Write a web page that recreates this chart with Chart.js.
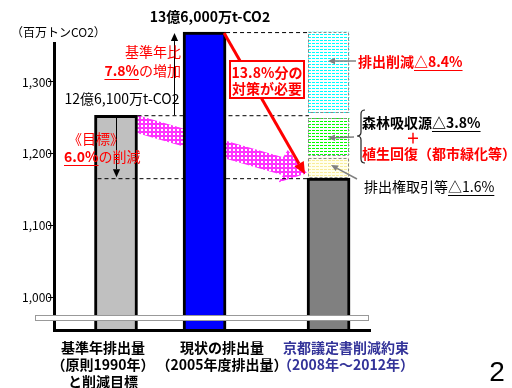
<!DOCTYPE html>
<html>
<head>
<meta charset="utf-8">
<script src="https://cdn.jsdelivr.net/npm/chart.js@4.4.1/dist/chart.umd.min.js"></script>
<style>
  html, body { margin: 0; padding: 0; background: #fff; }
  #wrap { width: 512px; height: 388px; position: relative; }
</style>
</head>
<body>
<div id="wrap"><canvas id="c"></canvas></div>
<script>
// 温室効果ガス排出量 (百万トンCO2)
const categories = [
  ['基準年排出量', '（原則1990年）', 'と削減目標'],
  ['現状の排出量', '（2005年度排出量）'],
  ['京都議定書削減約束', '（2008年～2012年）']
];
const emissions = [1261, 1360, 1186];
// 削減の内訳 (京都議定書の棒の上に重ねる箱: 下端, 上端)
const breakdownNames = ['排出権取引等', '森林吸収源', '排出削減'];
const breakdownRanges = [[1186, 1210], [1213, 1258], [1264, 1360]];
const yTicks = [1000, 1100, 1200, 1300];

const FONT = '"Noto Sans CJK JP", "Noto Sans", sans-serif';

// the original slide is not drawn to scale, so the bars use their own hidden value axis
// while the visible axis only carries the tick labels
const BAR_MIN = 1004, BAR_MAX = 1347;
// bars sit in uneven places on the slide: put them in narrow slots of a category axis
const slotOf = [3, 8, 15];
const slotLabels = Array.from({ length: 16 }, (_, i) => 's' + i);

function makePattern(bg, fg, w, h, dots) {
    const c = document.createElement('canvas');
    c.width = w; c.height = h;
    const x = c.getContext('2d');
    x.fillStyle = bg;
    x.fillRect(0, 0, w, h);
    x.fillStyle = fg;
    dots.forEach(d => x.fillRect(d[0], d[1], d[2], d[3]));
    return x.createPattern(c, 'repeat');
}

const cyanFill = makePattern('#ffffff', '#00ffff', 4, 3, [[0, 1, 3, 1]]);
const greenFill = makePattern('#ffffff', '#00ff00', 4, 3, [[0, 1, 3, 1]]);
const yellowFill = makePattern('#ffffee', '#f8ec9a', 4, 3, [[0, 1, 3, 1]]);
const pinkFill = makePattern('#ff33ff', '#ffffff', 4, 4, [[1, 1, 2, 2]]);
const boxFills = [yellowFill, greenFill, cyanFill];

function arrow(ctx, x1, y1, x2, y2, color, width, head) {
    ctx.save();
    ctx.strokeStyle = color;
    ctx.fillStyle = color;
    ctx.lineWidth = width;
    const a = Math.atan2(y2 - y1, x2 - x1);
    const bx = x2 - head * Math.cos(a), by = y2 - head * Math.sin(a);
    ctx.beginPath();
    ctx.moveTo(x1, y1);
    ctx.lineTo(bx, by);
    ctx.stroke();
    ctx.beginPath();
    ctx.moveTo(x2, y2);
    ctx.lineTo(bx + head * 0.45 * Math.sin(a), by - head * 0.45 * Math.cos(a));
    ctx.lineTo(bx - head * 0.45 * Math.sin(a), by + head * 0.45 * Math.cos(a));
    ctx.closePath();
    ctx.fill();
    ctx.restore();
}

function dashed(ctx, x1, y1, x2, y2, color) {
    ctx.save();
    ctx.strokeStyle = color;
    ctx.lineWidth = 1;
    ctx.setLineDash([4, 3]);
    ctx.beginPath();
    ctx.moveTo(x1, y1);
    ctx.lineTo(x2, y2);
    ctx.stroke();
    ctx.restore();
}

// parts: [text, bold, underline]
function textRuns(ctx, parts, x, y, align, color, size) {
    ctx.save();
    ctx.textBaseline = 'middle';
    ctx.textAlign = 'left';
    ctx.fillStyle = color;
    ctx.strokeStyle = color;
    const font = b => (b ? 'bold ' : '') + size + 'px ' + FONT;
    let total = 0;
    parts.forEach(p => { ctx.font = font(p[1]); total += ctx.measureText(p[0]).width; });
    let cx = align === 'left' ? x : align === 'right' ? x - total : x - total / 2;
    parts.forEach(p => {
        ctx.font = font(p[1]);
        const w = ctx.measureText(p[0]).width;
        ctx.fillText(p[0], cx, y);
        if (p[2]) {
            ctx.lineWidth = 1;
            ctx.beginPath();
            ctx.moveTo(cx, Math.round(y + size * 0.6) + 0.5);
            ctx.lineTo(cx + w, Math.round(y + size * 0.6) + 0.5);
            ctx.stroke();
        }
        cx += w;
    });
    ctx.restore();
}

const slidePlugin = {
    id: 'slide',
    beforeDatasetsDraw(chart) {
        const ctx = chart.ctx;
        const [g, b, d] = chart.getDatasetMeta(0).data;
        const gR = g.x + g.width / 2, bR = b.x + b.width / 2;
        const dL = d.x - d.width / 2;

        // pink band arrow from the base year to the target
        const sx = gR, sy = g.y, th = 18;
        const tx = dL, ty = d.y - 5;
        const slope = (ty - sy - th / 2) / (tx - sx);
        const hx = tx - 24;
        const cy = sy + th / 2 + slope * (hx - sx);
        const len = Math.hypot(1, slope), nx = -slope / len, ny = 1 / len;
        ctx.save();
        ctx.fillStyle = pinkFill;
        ctx.beginPath();
        ctx.moveTo(sx, sy);
        ctx.lineTo(hx, cy - th / 2);
        ctx.lineTo(hx - nx * 17, cy - ny * 17);
        ctx.lineTo(tx, ty);
        ctx.lineTo(hx + nx * 17, cy + ny * 17);
        ctx.lineTo(hx, cy + th / 2);
        ctx.lineTo(sx, sy + th);
        ctx.closePath();
        ctx.fill();
        ctx.restore();

        // dashed guide lines (blue bar covers the middle)
        dashed(ctx, gR, g.y + 0.5, dL + 2, g.y + 0.5, '#000');
        dashed(ctx, bR, b.y + 0.5, dL + 2, b.y + 0.5, '#000');
    },
    afterDatasetsDraw(chart) {
        const ctx = chart.ctx;
        const area = chart.chartArea;
        const [g, b, d] = chart.getDatasetMeta(0).data;
        const gL = g.x - g.width / 2, bL = b.x - b.width / 2, bR = b.x + b.width / 2;
        const dL = d.x - d.width / 2;

        // target level line
        dashed(ctx, gL + 3, d.y + 0.5, bL, d.y + 0.5, '#000');
        dashed(ctx, bR, d.y + 0.5, dL, d.y + 0.5, '#000');

        // arrows: 6.0% reduction and 7.8% increase
        arrow(ctx, Math.round(g.x) + 0.5, g.y, Math.round(g.x) + 0.5, d.y - 1, '#000', 1, 8);
        arrow(ctx, Math.round(bL) - 8.5, g.y, Math.round(bL) - 8.5, b.y + 1, '#000', 1, 8);

        // dashed borders of the breakdown boxes
        for (let i = 1; i <= breakdownRanges.length; i++) {
            const el = chart.getDatasetMeta(i).data[0];
            ctx.save();
            ctx.strokeStyle = '#888';
            ctx.lineWidth = 1;
            ctx.setLineDash([3, 2]);
            ctx.strokeRect(Math.round(el.x - el.width / 2) + 0.5, Math.round(el.y) + 0.5,
                Math.round(el.width) - 1, Math.round(el.base - el.y) - 1);
            ctx.restore();
        }

        // red arrow from current emissions to the target
        arrow(ctx, bR - 2, b.y + 1, dL - 2, d.y - 4, '#ff0000', 3, 12);

        // red box
        ctx.save();
        ctx.fillStyle = '#fff';
        ctx.strokeStyle = '#ff0000';
        ctx.lineWidth = 2;
        ctx.fillRect(230, 61, 74, 37);
        ctx.strokeRect(230, 61, 74, 37);
        ctx.restore();
        textRuns(ctx, [['13.8%分の', true]], 267, 73, 'center', '#ff0000', 14);
        textRuns(ctx, [['対策が必要', true]], 267, 89, 'center', '#ff0000', 14);

        // gray pointers to the boxes
        arrow(ctx, 356, 61, 328, 61, '#808080', 1.5, 7);
        arrow(ctx, 354, 137, 328, 138, '#808080', 1.5, 7);
        arrow(ctx, 357, 179, 331, 165, '#808080', 1.5, 7);

        // brace
        ctx.save();
        ctx.strokeStyle = '#222';
        ctx.lineWidth = 1.2;
        const bx = 361, y1 = 110, y2 = 163, ym = 136;
        ctx.beginPath();
        ctx.moveTo(bx + 4, y1);
        ctx.quadraticCurveTo(bx, y1, bx, y1 + 4);
        ctx.lineTo(bx, ym - 4);
        ctx.quadraticCurveTo(bx, ym, bx - 4, ym);
        ctx.quadraticCurveTo(bx, ym, bx, ym + 4);
        ctx.lineTo(bx, y2 - 4);
        ctx.quadraticCurveTo(bx, y2, bx + 4, y2);
        ctx.stroke();
        ctx.restore();

        // axis break band and bottom axis line
        ctx.save();
        ctx.fillStyle = '#fff';
        ctx.strokeStyle = '#999';
        ctx.lineWidth = 1;
        ctx.fillRect(35.5, 315.5, 333, 5);
        ctx.strokeRect(35.5, 315.5, 333, 5);
        ctx.fillStyle = '#000';
        ctx.fillRect(area.left - 1, area.bottom - 2, 372 - area.left, 3);
        ctx.restore();

        // texts
        textRuns(ctx, [['（百万トンCO2）', false]], 11, 32, 'left', '#000', 12);
        textRuns(ctx, [['13億6,000万t-CO2', true]], 210, 17, 'center', '#000', 14);
        textRuns(ctx, [['12億6,100万t-CO2', false]], 122, 99, 'center', '#000', 14);
        textRuns(ctx, [['基準年比', false]], 181, 52, 'right', '#ff0000', 14);
        textRuns(ctx, [['7.8%', true, true], ['の増加', false]], 181, 71, 'right', '#ff0000', 14);
        textRuns(ctx, [['《目標》', false]], 96, 139, 'center', '#ff0000', 14);
        textRuns(ctx, [['6.0%', true, true], ['の削減', false]], 64, 157, 'left', '#ff0000', 14);

        textRuns(ctx, [[breakdownNames[2], true], ['△8.4%', true, true]], 358, 62, 'left', '#ff0000', 14);
        textRuns(ctx, [[breakdownNames[1], true], ['△3.8%', true, true]], 362, 123, 'left', '#000', 14);
        textRuns(ctx, [['＋', true]], 413, 138, 'center', '#ff0000', 14);
        textRuns(ctx, [['植生回復（都市緑化等）', true]], 362, 154, 'left', '#ff0000', 14);
        textRuns(ctx, [[breakdownNames[0], false], ['△1.6%', false, true]], 364, 187, 'left', '#000', 14);

        // category labels
        const labelX = [103, 222, 346];
        const labelColor = ['#000', '#000', '#333399'];
        categories.forEach((lines, i) => {
            lines.forEach((t, j) => {
                textRuns(ctx, [[t, true]], labelX[i], 348 + j * 17, 'center', labelColor[i], 14);
            });
        });

        ctx.save();
        ctx.fillStyle = '#000';
        ctx.font = '28px "Liberation Sans", Arial, sans-serif';
        ctx.textAlign = 'center';
        ctx.textBaseline = 'middle';
        ctx.fillText('2', 497, 373);
        ctx.restore();
    }
};

const noBottomClip = { left: false, top: false, right: false, bottom: 0 };

const datasets = [{
    label: '排出量',
    data: emissions.map((v, i) => ({ x: slotLabels[slotOf[i]], y: v })),
    backgroundColor: ['#c0c0c0', '#0000ff', '#808080'],
    borderColor: '#000',
    borderWidth: 3,
    barThickness: 43,
    base: BAR_MIN,
    yAxisID: 'yBar',
    clip: noBottomClip
}];
breakdownRanges.forEach((r, i) => {
    datasets.push({
        label: breakdownNames[i],
        data: [{ x: slotLabels[slotOf[2]], y: r }],
        backgroundColor: boxFills[i],
        borderWidth: 0,
        barThickness: 41,
        yAxisID: 'yBar',
        clip: noBottomClip
    });
});

new Chart(document.getElementById('c'), {
    type: 'bar',
    data: { labels: slotLabels, datasets: datasets },
    options: {
        responsive: true,
        maintainAspectRatio: false,
        animation: false,
        layout: { padding: { left: 0, right: 174.6, top: 43, bottom: 57 } },
        datasets: { bar: { grouped: false } },
        plugins: { legend: { display: false }, tooltip: { enabled: false } },
        scales: {
            x: { type: 'category', display: false, offset: true },
            y: {
                type: 'linear',
                position: 'left',
                min: 952.6,
                max: 1354.4,
                afterBuildTicks: scale => { scale.ticks = yTicks.map(v => ({ value: v })); },
                afterFit: scale => { scale.width = 54; },
                ticks: {
                    padding: -4,
                    color: '#000',
                    font: { family: FONT, size: 12 },
                    callback: v => v.toLocaleString('en-US')
                },
                grid: { display: true, drawOnChartArea: false, drawTicks: true, tickLength: 6, color: '#000' },
                border: { display: true, color: '#000', width: 3 }
            },
            yBar: { type: 'linear', display: false, min: BAR_MIN, max: BAR_MAX }
        }
    },
    plugins: [slidePlugin]
});
</script>
</body>
</html>
